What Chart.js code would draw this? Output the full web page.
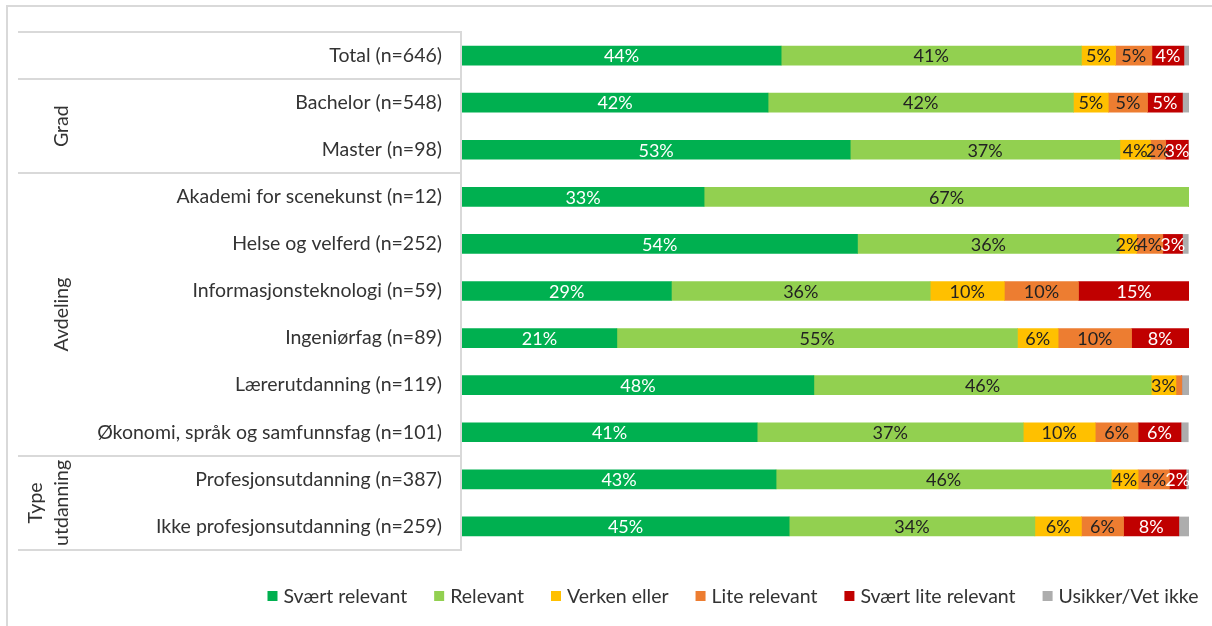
<!DOCTYPE html>
<html>
<head>
<meta charset="utf-8">
<script src="https://cdn.jsdelivr.net/npm/chart.js@4.4.1/dist/chart.umd.min.js"></script>
<style>
html, body { margin: 0; padding: 0; background: #fff; }
#wrap { width: 1212px; height: 626px; position: relative; }
</style>
</head>
<body>
<div id="wrap"><canvas id="barChart"></canvas></div>
<script>
const categories = [
    'Total (n=646)',
    'Bachelor (n=548)',
    'Master (n=98)',
    'Akademi for scenekunst (n=12)',
    'Helse og velferd (n=252)',
    'Informasjonsteknologi (n=59)',
    'Ingeniørfag (n=89)',
    'Lærerutdanning (n=119)',
    'Økonomi, språk og samfunnsfag (n=101)',
    'Profesjonsutdanning (n=387)',
    'Ikke profesjonsutdanning (n=259)'
];
const seriesNames = ['Svært relevant', 'Relevant', 'Verken eller', 'Lite relevant', 'Svært lite relevant', 'Usikker/Vet ikke'];
const svaertRelevant     = [43.9, 42.1, 53.4, 33.3, 54.4, 28.8, 21.3, 48.4, 40.6, 43.2, 45.0];
const relevant           = [41.3, 42.0, 37.1, 66.7, 36.0, 35.6, 55.1, 46.4, 36.6, 46.1, 33.8];
const verkenEller        = [4.7, 4.8, 4.2, 0, 2.4, 10.2, 5.6, 3.4, 9.9, 3.7, 6.4];
const liteRelevant       = [5.0, 5.4, 2.1, 0, 3.6, 10.2, 10.1, 0.8, 5.9, 4.3, 5.8];
const svaertLiteRelevant = [4.4, 4.8, 3.1, 0, 2.7, 15.3, 7.9, 0, 5.9, 2.3, 7.6];
const usikker            = [0.7, 0.9, 0, 0, 0.8, 0, 0, 1.0, 1.0, 0.4, 1.4];

// groups on the left: [label lines, first index, last index]
const groups = [
    [['Grad'], 1, 2],
    [['Avdeling'], 3, 8],
    [['Type', 'utdanning'], 9, 10]
];
const groupBreaks = [0, 2, 8]; // line drawn after these rows

const colors = ['#00B050', '#92D050', '#FFC000', '#ED7D31', '#C00000', '#ADADAD'];
const labelColors = ['#fff', '#222', '#222', '#222', '#fff', '#222'];
const FONT = 'Lato, "Open Sans", sans-serif';
const LINE = '#D9D9D9';
const TEXT = '#333';

const decorPlugin = {
    id: 'decor',
    beforeDraw(chart) {
        const c = chart.ctx;
        c.save();
        c.fillStyle = '#fff';
        c.fillRect(0, 0, chart.width, chart.height);
        // outer frame
        c.strokeStyle = LINE;
        c.lineWidth = 2;
        c.beginPath();
        c.moveTo(7, chart.height);
        c.lineTo(7, 6);
        c.lineTo(chart.width, 6);
        c.stroke();
        c.restore();
    },
    afterDraw(chart) {
        const c = chart.ctx;
        const y = chart.scales.y;
        const area = chart.chartArea;
        const step = (y.getPixelForValue(1) - y.getPixelForValue(0));
        const left = 18;
        c.save();
        c.strokeStyle = LINE;
        c.lineWidth = 2;
        c.beginPath();
        c.moveTo(left, area.top);
        c.lineTo(area.left - 1, area.top);
        c.lineTo(area.left - 1, area.bottom);
        c.lineTo(left, area.bottom);
        groupBreaks.forEach(i => {
            const py = Math.round(y.getPixelForValue(i) + step / 2);
            c.moveTo(left, py);
            c.lineTo(area.left - 1, py);
        });
        c.stroke();

        // rotated group titles
        c.fillStyle = TEXT;
        c.font = '19.5px ' + FONT;
        c.textAlign = 'center';
        c.textBaseline = 'middle';
        groups.forEach(([lines, a, b]) => {
            const cy = (y.getPixelForValue(a) + y.getPixelForValue(b)) / 2;
            const lh = 26;
            const x0 = 62 - (lines.length - 1) * lh;
            lines.forEach((t, k) => {
                c.save();
                c.translate(x0 + k * lh, cy);
                c.rotate(-Math.PI / 2);
                c.fillText(t, 0, 0);
                c.restore();
            });
        });

        // legend
        c.font = '19.5px ' + FONT;
        c.textAlign = 'left';
        const box = 10, gapIn = 6, gapOut = 27;
        const widths = seriesNames.map(n => c.measureText(n).width);
        const total = widths.reduce((s, w) => s + box + gapIn + w, 0) + gapOut * (seriesNames.length - 1);
        let lx = 733 - total / 2;
        const ly = 596;
        seriesNames.forEach((n, i) => {
            c.fillStyle = colors[i];
            c.fillRect(lx, ly - box / 2, box, box);
            lx += box + gapIn;
            c.fillStyle = TEXT;
            c.fillText(n, lx, ly + 1);
            lx += widths[i] + gapOut;
        });
        c.restore();
    },
    afterDatasetsDraw(chart) {
        const c = chart.ctx;
        c.save();
        c.font = '18px ' + FONT;
        c.textAlign = 'center';
        c.textBaseline = 'middle';
        chart.data.datasets.forEach((ds, di) => {
            if (di === 5) return;
            const meta = chart.getDatasetMeta(di);
            meta.data.forEach((bar, i) => {
                const v = ds.data[i];
                if (v < 1.5) return;
                const cx = (bar.x + bar.base) / 2;
                c.fillStyle = labelColors[di];
                c.fillText(Math.round(v) + '%', cx, bar.y + 1);
            });
        });
        c.restore();
    }
};

const seriesData = [svaertRelevant, relevant, verkenEller, liteRelevant, svaertLiteRelevant, usikker];

const ctx = document.getElementById('barChart').getContext('2d');
const barChart = new Chart(ctx, {
    type: 'bar',
    data: {
        labels: categories,
        datasets: seriesData.map((d, i) => ({
            label: seriesNames[i],
            data: d,
            backgroundColor: colors[i],
            barThickness: 19,
            borderWidth: 0
        }))
    },
    options: {
        indexAxis: 'y',
        responsive: true,
        maintainAspectRatio: false,
        animation: false,
        layout: { padding: { left: 10, right: 23, top: 32, bottom: 76 } },
        scales: {
            x: {
                stacked: true,
                min: 0,
                max: 100,
                display: false
            },
            y: {
                stacked: true,
                grid: { display: false },
                border: { display: false },
                ticks: {
                    color: TEXT,
                    padding: 12,
                    font: { family: FONT, size: 19.5 }
                },
                afterFit(scale) { scale.width = 452; }
            }
        },
        plugins: {
            legend: { display: false },
            tooltip: { enabled: false }
        }
    },
    plugins: [decorPlugin]
});
</script>
</body>
</html>
